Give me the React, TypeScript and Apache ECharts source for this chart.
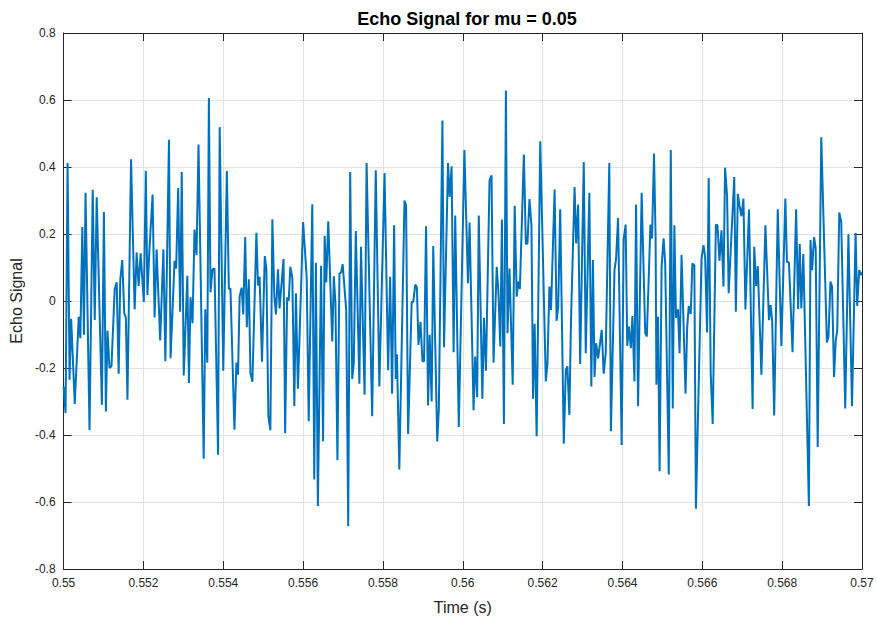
import React, { useEffect, useRef } from "react";
import * as echarts from "echarts";

const titleText = "Echo Signal for mu = 0.05";
const xLabel = "Time (s)";
const yLabel = "Echo Signal";

const times: number[] = [
  0.55, 0.55005, 0.5501, 0.55015, 0.55019, 0.55028, 0.55038, 0.55042, 0.55047, 0.55051,
  0.55055, 0.55065, 0.55073, 0.55078, 0.55083, 0.55096, 0.55101, 0.55106, 0.5511, 0.55115,
  0.5512, 0.55128, 0.55133, 0.55138, 0.55142, 0.55147, 0.55152, 0.55156, 0.5516, 0.55169,
  0.55178, 0.55183, 0.55188, 0.55193, 0.55201, 0.55206, 0.5521, 0.55215, 0.55223, 0.55228,
  0.55233, 0.55242, 0.5525, 0.55255, 0.55264, 0.55268, 0.55278, 0.55282, 0.55287, 0.55292,
  0.55296, 0.55301, 0.5531, 0.55314, 0.55318, 0.55323, 0.55328, 0.55333, 0.55338, 0.55351,
  0.55355, 0.5536, 0.55364, 0.55368, 0.55373, 0.55378, 0.55387, 0.55391, 0.554, 0.55409,
  0.55414, 0.55418, 0.55428, 0.55433, 0.55437, 0.55441, 0.55446, 0.5545, 0.55455, 0.55459,
  0.55464, 0.55468, 0.55473, 0.55483, 0.55487, 0.55491, 0.55497, 0.55504, 0.55508, 0.55513,
  0.55518, 0.55523, 0.55528, 0.55532, 0.55537, 0.55541, 0.55551, 0.55555, 0.5556, 0.55564,
  0.55568, 0.55573, 0.55578, 0.55582, 0.55587, 0.556, 0.55609, 0.55614, 0.55623, 0.55628,
  0.55632, 0.55637, 0.55645, 0.5565, 0.55654, 0.55658, 0.55663, 0.55673, 0.55677, 0.55681,
  0.55686, 0.55691, 0.55695, 0.55699, 0.55708, 0.55713, 0.55718, 0.55723, 0.55727, 0.55732,
  0.55741, 0.55745, 0.55754, 0.55759, 0.55773, 0.55782, 0.55791, 0.55804, 0.55813, 0.55818,
  0.55823, 0.55828, 0.55832, 0.55835, 0.55841, 0.55854, 0.55858, 0.55863, 0.55872, 0.55876,
  0.55881, 0.55885, 0.55889, 0.55894, 0.55899, 0.55903, 0.55908, 0.55913, 0.55917, 0.55922,
  0.55926, 0.55936, 0.5594, 0.55949, 0.55953, 0.55963, 0.55967, 0.55972, 0.55977, 0.55981,
  0.5599, 0.56004, 0.56013, 0.56017, 0.56027, 0.56031, 0.56036, 0.5604, 0.56049, 0.56053,
  0.56058, 0.56067, 0.56072, 0.56077, 0.56085, 0.56089, 0.56094, 0.56098, 0.56103, 0.56108,
  0.56112, 0.56117, 0.56125, 0.5613, 0.56135, 0.56139, 0.56143, 0.56153, 0.56158, 0.56162,
  0.56167, 0.56172, 0.56176, 0.5618, 0.56185, 0.56194, 0.56208, 0.56212, 0.56217, 0.56221,
  0.5623, 0.56235, 0.56239, 0.56244, 0.56253, 0.56258, 0.56262, 0.56267, 0.56271, 0.5628,
  0.56284, 0.56289, 0.56294, 0.56303, 0.56308, 0.56317, 0.56322, 0.56326, 0.5633, 0.56334,
  0.56339, 0.56348, 0.56353, 0.56358, 0.56367, 0.56371, 0.5638, 0.56384, 0.56389, 0.56398,
  0.56403, 0.56408, 0.56412, 0.56416, 0.56421, 0.56425, 0.5643, 0.56434, 0.56439, 0.56448,
  0.56457, 0.56461, 0.5647, 0.56474, 0.56479, 0.56483, 0.56485, 0.56489, 0.56493, 0.56498,
  0.56503, 0.56507, 0.56516, 0.56521, 0.56526, 0.5653, 0.56534, 0.56539, 0.56543, 0.56548,
  0.56558, 0.56562, 0.56566, 0.56571, 0.56575, 0.5658, 0.56584, 0.56598, 0.56603, 0.56607,
  0.56612, 0.56616, 0.56621, 0.56626, 0.56634, 0.56638, 0.56643, 0.56648, 0.56653, 0.56657,
  0.56662, 0.56666, 0.5668, 0.56684, 0.56689, 0.56693, 0.56698, 0.56703, 0.56708, 0.56717,
  0.56726, 0.5673, 0.56735, 0.56739, 0.56748, 0.56758, 0.56767, 0.56771, 0.56775, 0.5678,
  0.56789, 0.56798, 0.56808, 0.56812, 0.56817, 0.56826, 0.56835, 0.5684, 0.56844, 0.56848,
  0.56853, 0.56867, 0.56871, 0.56875, 0.5688, 0.56884, 0.56889, 0.56898, 0.56912, 0.56916,
  0.56921, 0.56925, 0.5693, 0.56934, 0.56938, 0.56943, 0.56948, 0.56958, 0.56966, 0.56975,
  0.56984, 0.56988, 0.56993, 0.56998, 0.57,
];

const echo: number[] = [
  -0.255, -0.334, 0.412, -0.235, -0.053, -0.307, -0.047, -0.111, 0.221, -0.101,
  0.323, -0.386, 0.332, -0.057, 0.31, -0.31, 0.266, -0.33, -0.088, -0.2,
  -0.195, 0.035, 0.056, -0.217, 0.063, 0.122, -0.037, -0.05, -0.295, 0.423,
  -0.025, 0.145, 0.045, 0.142, -0.003, 0.388, 0.018, 0.152, 0.318, -0.049,
  0.154, -0.118, 0.154, -0.18, 0.481, -0.171, 0.12, 0.097, 0.337, -0.032,
  0.385, -0.222, 0.075, -0.245, 0.011, -0.066, 0.213, 0.137, 0.467, -0.471,
  -0.025, -0.184, 0.606, 0.026, 0.094, 0.097, -0.459, 0.519, -0.208, 0.388,
  0.035, 0.038, -0.384, -0.184, -0.22, 0.013, 0.04, -0.04, 0.191, -0.078,
  0.065, -0.215, -0.241, 0.204, 0.046, 0.072, -0.181, 0.134, 0.097, -0.344,
  -0.386, 0.244, 0.013, -0.04, 0.095, -0.022, 0.125, -0.395, 0.011, 0.001,
  0.102, 0.07, -0.314, 0.023, -0.262, 0.236, 0.07, -0.359, 0.289, -0.533,
  0.114, -0.612, 0.105, -0.419, 0.195, 0.055, 0.238, -0.121, 0.074, -0.007,
  -0.475, 0.082, 0.085, 0.11, -0.027, -0.672, 0.385, -0.233, -0.185, 0.209,
  -0.247, 0.162, -0.28, 0.412, -0.344, 0.39, -0.255, 0.382, -0.207, 0.072,
  -0.277, 0.226, -0.233, -0.159, -0.503, 0.3, 0.286, -0.397, -0.003, -0.002,
  0.049, 0.041, -0.131, -0.062, -0.18, -0.18, 0.223, -0.312, -0.101, -0.3,
  0.164, -0.419, -0.324, 0.539, -0.138, 0.412, 0.311, 0.402, -0.153, 0.255,
  -0.376, 0.451, 0.053, 0.234, -0.326, -0.166, -0.287, 0.255, -0.292, -0.05,
  -0.208, 0.36, 0.375, -0.184, 0.102, 0.033, -0.136, 0.243, -0.367, 0.628,
  -0.096, 0.097, -0.25, 0.284, 0.013, 0.058, 0.036, 0.437, 0.17, 0.172,
  0.304, 0.226, -0.292, -0.068, -0.404, 0.477, -0.24, -0.188, 0.043, -0.027,
  0.333, -0.059, -0.017, 0.274, -0.426, -0.205, -0.195, -0.34, -0.06, 0.34,
  0.172, 0.288, -0.188, 0.415, -0.156, 0.323, -0.255, 0.122, -0.227, -0.126,
  -0.171, -0.086, -0.217, -0.156, 0.412, -0.389, 0.092, 0.127, 0.248, -0.43,
  0.185, 0.228, -0.134, -0.076, -0.141, -0.045, -0.24, 0.288, -0.314, 0.323,
  -0.096, -0.106, 0.228, 0.187, 0.44, 0.185, -0.25, -0.047, -0.508, 0.102,
  0.187, 0.112, -0.518, 0.451, -0.321, 0.226, -0.05, -0.025, -0.156, 0.137,
  -0.277, -0.081, -0.015, -0.039, 0.112, 0.107, -0.62, 0.127, 0.167, 0.132,
  -0.094, 0.367, -0.215, -0.367, 0.228, 0.226, 0.12, 0.211, 0.043, 0.398,
  0.315, 0.023, 0.37, -0.032, 0.32, 0.286, 0.253, 0.306, -0.025, 0.273,
  -0.322, 0.162, 0.045, 0.104, -0.22, 0.226, -0.057, -0.012, -0.06, -0.342,
  0.274, -0.134, 0.306, 0.117, 0.115, -0.153, 0.274, -0.024, 0.17, -0.022,
  0.14, -0.612, 0.182, 0.092, 0.191, 0.157, -0.436, 0.489, -0.124, -0.106,
  0.058, 0.043, -0.227, -0.121, -0.086, 0.264, 0.236, -0.321, 0.199, -0.314,
  0.203, -0.015, 0.092, 0.077, 0.086,
];

const xMin = 0.55;
const xMax = 0.57;
const xStep = 0.002;
const yMin = -0.8;
const yMax = 0.8;
const yStep = 0.2;

const fmt = (v: number) => String(+v.toFixed(4));

export default function App() {
  const ref = useRef<HTMLDivElement>(null);
  useEffect(() => {
    if (!ref.current) return;
    const chart = echarts.init(ref.current, undefined, { renderer: "svg" });
    const axisColor = "#262626";
    const font = "'Liberation Sans', Arial, sans-serif";
    const data = times.map((t, i) => [t, echo[i]]);
    chart.setOption({
      animation: false,
      backgroundColor: "#ffffff",
      title: {
        text: titleText,
        left: 462,
        textAlign: "center",
        top: 5,
        textStyle: { fontSize: 18, fontWeight: "bold", color: "#000", fontFamily: font },
      },
      grid: { left: 62, right: 15, top: 33, bottom: 49, show: false },
      xAxis: [
        {
          type: "value",
          min: xMin,
          max: xMax,
          interval: xStep,
          name: xLabel,
          nameLocation: "middle",
          nameGap: 30,
          nameTextStyle: { fontSize: 16, color: axisColor, fontFamily: font },
          axisLine: { show: true, onZero: false, lineStyle: { color: axisColor, width: 1 } },
          axisTick: { show: true, inside: true, length: 8, lineStyle: { color: axisColor } },
          axisLabel: { formatter: fmt, fontSize: 12, color: axisColor, fontFamily: font, margin: 8 },
          splitLine: { show: true, lineStyle: { color: "#e3e3e3", width: 1 } },
        },
        {
          type: "value",
          position: "top",
          min: xMin,
          max: xMax,
          interval: xStep,
          axisLine: { show: true, onZero: false, lineStyle: { color: axisColor, width: 1 } },
          axisTick: { show: true, inside: true, length: 8, lineStyle: { color: axisColor } },
          axisLabel: { show: false },
          splitLine: { show: false },
        },
      ],
      yAxis: [
        {
          type: "value",
          min: yMin,
          max: yMax,
          interval: yStep,
          name: yLabel,
          nameLocation: "middle",
          nameGap: 38,
          nameTextStyle: { fontSize: 16, color: axisColor, fontFamily: font },
          axisLine: { show: true, onZero: false, lineStyle: { color: axisColor, width: 1 } },
          axisTick: { show: true, inside: true, length: 8, lineStyle: { color: axisColor } },
          axisLabel: { formatter: fmt, fontSize: 12, color: axisColor, fontFamily: font, margin: 8 },
          splitLine: { show: true, lineStyle: { color: "#e3e3e3", width: 1 } },
        },
        {
          type: "value",
          position: "right",
          min: yMin,
          max: yMax,
          interval: yStep,
          axisLine: { show: true, onZero: false, lineStyle: { color: axisColor, width: 1 } },
          axisTick: { show: true, inside: true, length: 8, lineStyle: { color: axisColor } },
          axisLabel: { show: false },
          splitLine: { show: false },
        },
      ],
      series: [
        {
          type: "line",
          data,
          xAxisIndex: 0,
          yAxisIndex: 0,
          showSymbol: false,
          symbol: "none",
          lineStyle: { color: "#0072BD", width: 2 },
          clip: true,
        },
      ],
    });
    return () => chart.dispose();
  }, []);
  return <div ref={ref} style={{ width: 877, height: 620, position: "absolute", left: 0, top: 0 }} />;
}
